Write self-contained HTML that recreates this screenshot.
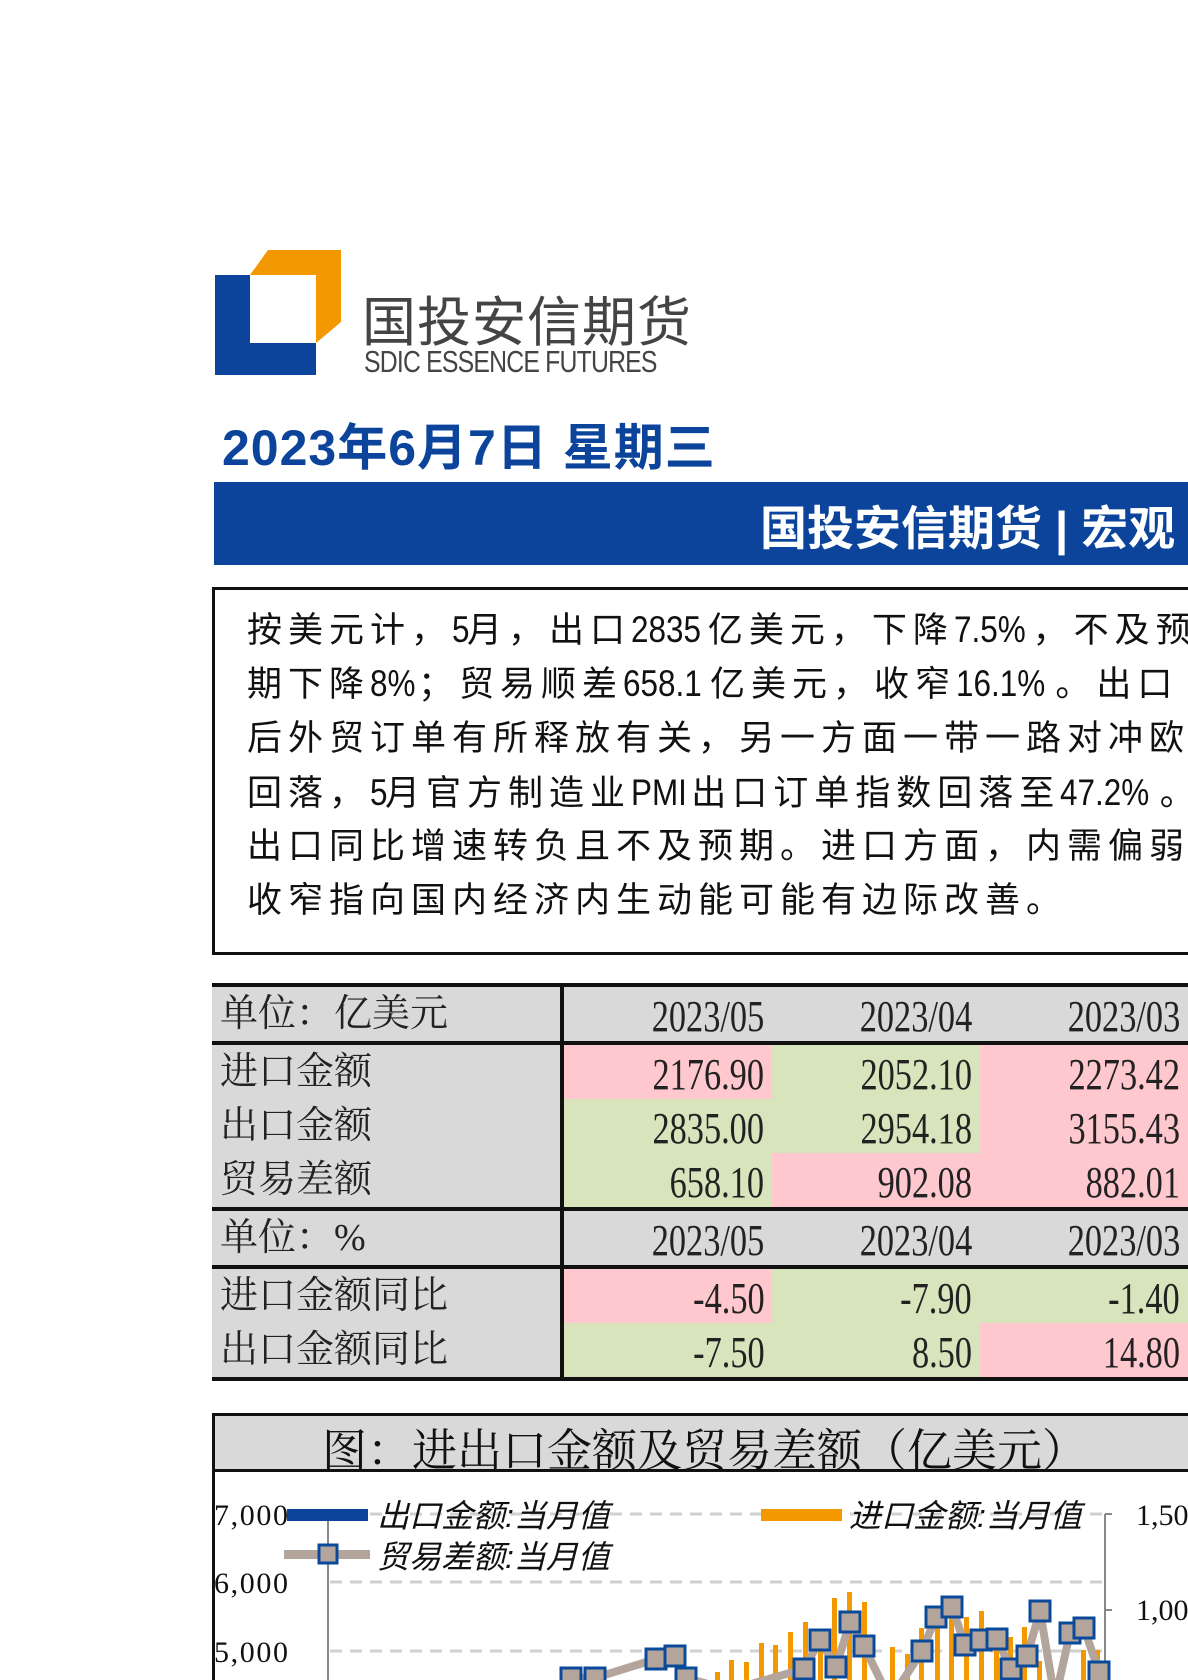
<!DOCTYPE html>
<html><head><meta charset="utf-8"><style>
body{margin:0;width:1188px;height:1680px;overflow:hidden;background:#fff;position:relative;font-family:"Liberation Sans","Noto Sans CJK SC",sans-serif}
.a{position:absolute;white-space:nowrap}
.txt{left:247px;font-family:"Liberation Sans","Noto Sans CJK SC",sans-serif;font-size:35px;letter-spacing:6px;color:#111;line-height:54px}
.txt b{font-weight:normal;letter-spacing:0;font-size:37px;display:inline-block;transform:scaleX(0.85);transform-origin:left;margin-right:-0.15em}
table{position:absolute;left:212px;top:983px;border-collapse:collapse;table-layout:fixed;font-family:"Liberation Serif","Noto Serif CJK SC",serif;font-size:38px;color:#222}
td{height:54px;padding:0 8px;border:0;line-height:54px;overflow:hidden;white-space:nowrap}
td.n{text-align:right}
td.n span{display:inline-block;font-size:44px;line-height:1;transform:scaleX(0.78);transform-origin:right;vertical-align:middle}
.g{background:#d9d9d9}.p{background:#ffc7ce}.e{background:#d8e4bc}
</style></head><body>
<svg class="a" style="left:0;top:0" width="1188" height="400">
<polygon points="250,275 268,250 341,250 341,322 316,343 316,275" fill="#f39800"/>
<path d="M215 275 H250 V343 H316 V375 H215 Z" fill="#0b449a"/>
</svg>
<div class="a" style="left:362px;top:278px;font-size:54px;color:#444;letter-spacing:1px">国投安信期货</div>
<div class="a" style="left:364px;top:344px;font-size:31px;color:#444;transform:scaleX(0.8);transform-origin:left;letter-spacing:-1px">SDIC ESSENCE FUTURES</div>
<div class="a" style="left:222px;top:408px;font-size:50px;font-weight:bold;color:#0b449a;letter-spacing:1px">2023年6月7日 星期三</div>
<div class="a" style="left:214px;top:482px;width:974px;height:83px;background:#0b449a"></div>
<div class="a" style="left:760px;top:490px;font-size:47px;font-weight:bold;color:#fff">国投安信期货 | 宏观</div>
<div class="a" style="left:212px;top:587px;width:990px;height:362px;border:3px solid #111"></div>
<div class="a txt" style="top:603px">按美元计，<b>5</b>月，出口<b>2835</b>亿美元，下降<b>7.5%</b>，不及预</div>
<div class="a txt" style="top:657px">期下降<b>8%</b>；贸易顺差<b>658.1</b>亿美元，收窄<b>16.1%</b>。出口</div>
<div class="a txt" style="top:712px">后外贸订单有所释放有关，另一方面一带一路对冲欧</div>
<div class="a txt" style="top:766px">回落，<b>5</b>月官方制造业<b>PMI</b>出口订单指数回落至<b>47.2%</b>。</div>
<div class="a txt" style="top:820px">出口同比增速转负且不及预期。进口方面，内需偏弱</div>
<div class="a txt" style="top:874px">收窄指向国内经济内生动能可能有边际改善。</div>
<table>
<colgroup><col style="width:363px"><col style="width:217px"><col style="width:214px"><col style="width:214px"></colgroup>
<tr class="g" style="border-top:4px solid #111;border-bottom:4px solid #111"><td style="border-right:4px solid #111">单位：亿美元</td><td class="n"><span>2023/05</span></td><td class="n"><span>2023/04</span></td><td class="n"><span>2023/03</span></td></tr>
<tr><td class="g" style="border-right:4px solid #111">进口金额</td><td class="n p"><span>2176.90</span></td><td class="n e"><span>2052.10</span></td><td class="n p"><span>2273.42</span></td></tr>
<tr><td class="g" style="border-right:4px solid #111">出口金额</td><td class="n e"><span>2835.00</span></td><td class="n e"><span>2954.18</span></td><td class="n p"><span>3155.43</span></td></tr>
<tr style="border-bottom:4px solid #111"><td class="g" style="border-right:4px solid #111">贸易差额</td><td class="n e"><span>658.10</span></td><td class="n p"><span>902.08</span></td><td class="n p"><span>882.01</span></td></tr>
<tr class="g" style="border-bottom:4px solid #111"><td style="border-right:4px solid #111">单位：%</td><td class="n"><span>2023/05</span></td><td class="n"><span>2023/04</span></td><td class="n"><span>2023/03</span></td></tr>
<tr><td class="g" style="border-right:4px solid #111">进口金额同比</td><td class="n p"><span>-4.50</span></td><td class="n e"><span>-7.90</span></td><td class="n e"><span>-1.40</span></td></tr>
<tr style="border-bottom:4px solid #111"><td class="g" style="border-right:4px solid #111">出口金额同比</td><td class="n e"><span>-7.50</span></td><td class="n e"><span>8.50</span></td><td class="n p"><span>14.80</span></td></tr>
</table>
<div class="a" style="left:212px;top:1413px;width:990px;height:53px;background:#d9d9d9;border:3px solid #111"></div>
<div class="a" style="left:212px;top:1469px;width:3px;height:211px;background:#111"></div>
<div class="a" style="left:322px;top:1414px;font-size:45px;color:#111;font-family:'Liberation Serif','Noto Serif CJK SC',serif">图：进出口金额及贸易差额（亿美元）</div>
<svg class="a" style="left:0;top:1469px" width="1188" height="211" viewBox="0 1469 1188 211">
<g stroke="#d0d0d0" stroke-width="3" stroke-dasharray="12,8"><line x1="330" y1="1514" x2="1105" y2="1514"/><line x1="330" y1="1582" x2="1105" y2="1582"/><line x1="330" y1="1651" x2="1105" y2="1651"/></g>
<line x1="328" y1="1514" x2="328" y2="1680" stroke="#888" stroke-width="2"/>
<line x1="1105" y1="1514" x2="1105" y2="1680" stroke="#888" stroke-width="2"/>
<line x1="1105" y1="1514" x2="1112" y2="1514" stroke="#888" stroke-width="2"/><line x1="1105" y1="1610" x2="1112" y2="1610" stroke="#888" stroke-width="2"/>
<g font-family="Liberation Serif" font-size="30" fill="#111"><text x="214" y="1525" textLength="74">7,000</text><text x="214" y="1593" textLength="74">6,000</text><text x="214" y="1662" textLength="74">5,000</text><text x="1136" y="1525">1,500</text><text x="1136" y="1620">1,000</text></g>
<g fill="#f39800">
<rect x="715" y="1672" width="5" height="10"/><rect x="729" y="1660" width="5" height="20"/><rect x="744" y="1662" width="5" height="20"/><rect x="759" y="1643" width="5" height="40"/><rect x="773" y="1645" width="5" height="40"/><rect x="788" y="1632" width="5" height="50"/><rect x="803" y="1622" width="5" height="60"/><rect x="818" y="1650" width="5" height="30"/><rect x="832" y="1598" width="5" height="90"/><rect x="847" y="1592" width="5" height="90"/><rect x="862" y="1602" width="5" height="90"/><rect x="890" y="1647" width="5" height="40"/><rect x="905" y="1654" width="5" height="30"/><rect x="919" y="1628" width="5" height="60"/><rect x="935" y="1625" width="5" height="60"/><rect x="949" y="1612" width="5" height="70"/><rect x="964" y="1617" width="5" height="70"/><rect x="979" y="1611" width="5" height="70"/><rect x="994" y="1640" width="5" height="40"/><rect x="1008" y="1637" width="5" height="50"/><rect x="1022" y="1627" width="5" height="60"/><rect x="1037" y="1661" width="5" height="20"/><rect x="1081" y="1650" width="5" height="30"/><rect x="1095" y="1650" width="5" height="30"/>
</g>
<polyline fill="none" stroke="#b4a59c" stroke-width="8" points="571,1678 595,1678 656,1659 675,1656 686,1678 730,1690 804,1669 820,1640 836,1667 850,1622 864,1646 890,1700 922,1651 936,1617 952,1607 965,1645 981,1640 997,1639 1011,1669 1027,1656 1040,1611 1055,1700 1070,1633 1084,1628 1099,1672"/>
<g fill="#b4a59c" stroke="#0b4a9a" stroke-width="3">
<rect x="561" y="1668" width="20" height="20"/><rect x="585" y="1668" width="20" height="20"/><rect x="646" y="1649" width="20" height="20"/><rect x="665" y="1646" width="20" height="20"/><rect x="676" y="1668" width="20" height="20"/><rect x="794" y="1659" width="20" height="20"/><rect x="810" y="1630" width="20" height="20"/><rect x="826" y="1657" width="20" height="20"/><rect x="840" y="1612" width="20" height="20"/><rect x="854" y="1636" width="20" height="20"/><rect x="912" y="1641" width="20" height="20"/><rect x="926" y="1607" width="20" height="20"/><rect x="942" y="1597" width="20" height="20"/><rect x="955" y="1635" width="20" height="20"/><rect x="971" y="1630" width="20" height="20"/><rect x="987" y="1629" width="20" height="20"/><rect x="1001" y="1659" width="20" height="20"/><rect x="1017" y="1646" width="20" height="20"/><rect x="1030" y="1601" width="20" height="20"/><rect x="1060" y="1623" width="20" height="20"/><rect x="1074" y="1618" width="20" height="20"/><rect x="1089" y="1662" width="20" height="20"/>
</g>
<rect x="287" y="1509" width="81" height="12" fill="#0b449a"/>
<rect x="761" y="1509" width="81" height="12" fill="#f39800"/>
<rect x="284" y="1550" width="86" height="9" fill="#b4a59c"/>
<rect x="319" y="1545" width="18" height="18" fill="#b4a59c" stroke="#0b4a9a" stroke-width="3"/>
<g font-family="Liberation Sans,Noto Sans CJK SC,sans-serif" font-size="32" font-style="italic" fill="#111"><text x="377" y="1527">出口金额:当月值</text><text x="849" y="1527">进口金额:当月值</text><text x="377" y="1568">贸易差额:当月值</text></g>
</svg>
</body></html>
